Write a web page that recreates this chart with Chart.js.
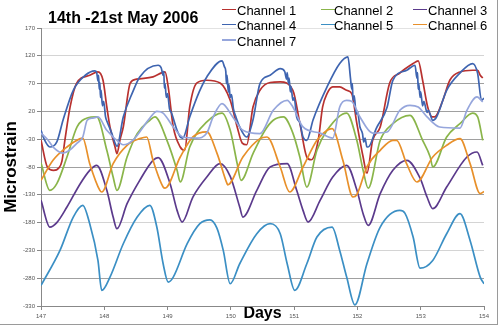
<!DOCTYPE html>
<html>
<head>
<meta charset="utf-8">
<script src="https://cdn.jsdelivr.net/npm/chart.js@4.4.1/dist/chart.umd.min.js"></script>
<style>
  html, body { margin: 0; padding: 0; background: #fff; }
  #wrap { position: relative; width: 500px; height: 326px; overflow: hidden; background: #fff; font-family: "Liberation Sans", Arial, sans-serif; }
  #frame { position: absolute; left: 0; top: 0; width: 497px; height: 324px; border-right: 1px solid #9a9a9a; border-bottom: 1px solid #9a9a9a; box-sizing: content-box; pointer-events: none; }
  #c { position: absolute; left: 0; top: 0; }
  #title { position: absolute; left: 48px; top: 10px; font: bold 16px/16px "Liberation Sans", Arial, sans-serif; color: #000; white-space: nowrap; }
  .lg-line { position: absolute; height: 1.5px; width: 14px; }
  .lg-text { position: absolute; font: 13px/16px "Liberation Sans", Arial, sans-serif; color: #000; white-space: nowrap; }
</style>
</head>
<body>
<div id="wrap">
  <canvas id="c" width="500" height="326"></canvas>
  <div id="title">14th -21st May 2006</div>
  <div id="legend"></div>
  <div id="frame"></div>
</div>
<script>
// ---------- data ----------
const channelNames = ['Channel 1', 'Channel 2', 'Channel 3', 'Channel 4', 'Channel 5', 'Channel 6', 'Channel 7'];
const channelColors = ['#b8312f', '#8ab54a', '#5b3a8c', '#3e64b0', '#3b8fc4', '#e8902a', '#96a6dc'];

const yTicks = [-330, -280, -230, -180, -130, -80, -30, 20, 70, 120, 170];
const xTicks = [147, 148, 149, 150, 151, 152, 153, 154];

const ch1Days = [147.00,147.10,147.20,147.28,147.33,147.38,147.46,147.56,147.77,147.90,147.98,148.04,148.09,148.17,148.20,148.25,148.30,148.41,148.51,148.77,148.96,149.01,149.09,149.20,149.27,149.35,149.46,149.62,149.83,149.99,150.10,150.18,150.25,150.35,150.46,150.62,150.78,150.98,151.09,151.20,151.27,151.38,151.45,151.52,151.61,151.72,151.83,151.91,151.99,152.09,152.15,152.24,152.36,152.51,152.67,152.88,152.96,153.03,153.11,153.18,153.22,153.35,153.46,153.62,153.82,153.90,153.94,153.98];
const ch1Vals = [-32,-80,-86,-82,-70,-30,28,70,85,91,76,28,-8,-44,-56,-30,-8,71,78,82,91,64,-8,-44,-50,28,71,76,71,40,-8,-37,-40,28,58,72,73,58,-1,-62,-67,-32,28,52,64,64,58,52,-1,-62,-91,-32,-8,71,89,106,111,76,28,10,10,40,76,91,94,94,85,80];

const ch2Days = [147.00,147.14,147.25,147.41,147.57,147.73,147.88,148.04,148.14,148.20,148.36,148.52,148.72,148.80,148.99,149.15,149.20,149.35,149.62,149.86,149.99,150.10,150.16,150.35,150.54,150.67,150.83,150.98,151.09,151.20,151.36,151.52,151.83,151.99,152.09,152.17,152.36,152.56,152.83,153.03,153.15,153.19,153.41,153.62,153.82,153.90,153.98];
const ch2Vals = [-73,-122,-110,-62,-8,8,10,-50,-98,-122,-62,-20,4,10,-32,-86,-107,-44,1,17,-14,-74,-104,-56,-14,4,10,-19,-62,-116,-50,-14,17,-32,-86,-118,-32,-2,13,-32,-62,-80,-26,-2,17,10,-32];

const ch3Days = [147.00,147.14,147.25,147.41,147.62,147.77,147.88,148.04,148.14,148.20,148.36,148.56,148.77,148.85,149.04,149.15,149.23,149.40,149.62,149.83,149.99,150.14,150.19,150.41,150.62,150.89,151.04,151.14,151.22,151.41,151.61,151.83,151.99,152.09,152.17,152.36,152.56,152.78,152.99,153.10,153.19,153.41,153.73,153.89,153.98];
const ch3Vals = [-140,-188,-180,-152,-110,-86,-77,-122,-170,-191,-146,-104,-68,-63,-110,-158,-179,-134,-98,-74,-97,-152,-170,-122,-80,-74,-122,-158,-179,-140,-98,-77,-121,-164,-185,-128,-86,-68,-100,-134,-155,-116,-62,-53,-77];

const ch4Days = [147.00,147.05,147.14,147.25,147.35,147.51,147.70,147.85,147.88,147.90,147.91,147.92,147.93,147.94,147.95,147.97,147.99,148.02,148.05,148.12,148.17,148.20,148.30,148.45,148.56,148.85,148.90,148.93,148.94,148.95,148.96,148.98,149.00,149.03,149.06,149.15,149.20,149.24,149.35,149.50,149.62,149.86,149.90,149.92,149.93,149.94,149.96,149.97,149.99,150.01,150.04,150.08,150.14,150.25,150.35,150.46,150.62,150.78,150.85,150.88,150.89,150.91,150.92,150.94,150.95,150.98,151.00,151.04,151.09,151.14,151.20,151.30,151.52,151.72,151.85,151.89,151.91,151.92,151.93,151.95,151.98,152.00,152.04,152.08,152.10,152.12,152.15,152.17,152.30,152.47,152.56,152.78,152.91,152.94,152.95,152.96,152.97,152.99,153.00,153.03,153.05,153.10,153.12,153.19,153.25,153.41,153.62,153.82,153.90,153.96,154.00];
const ch4Vals = [-14,-30,-44,-35,5,58,85,93,90,75,85,60,72,45,58,30,38,10,0,-20,-37,-43,10,55,82,103,98,85,92,62,70,45,52,25,18,-14,-26,-28,10,55,82,111,100,92,70,85,55,68,45,50,25,10,-8,-26,5,70,85,97,92,78,90,70,80,55,65,40,45,10,0,-26,-32,5,64,106,118,80,60,70,40,48,15,20,-8,-20,-35,-28,-44,-44,-10,28,76,94,103,80,90,60,70,45,55,30,38,18,22,4,10,58,89,106,88,40,44];

const ch5Days = [147.00,147.30,147.51,147.66,147.77,147.90,147.96,148.09,148.30,148.52,148.72,148.83,148.93,149.01,149.09,149.31,149.51,149.67,149.78,149.88,149.99,150.14,150.41,150.62,150.78,150.89,151.01,151.20,151.36,151.60,151.72,151.83,151.96,152.15,152.36,152.67,152.75,152.88,152.99,153.19,153.41,153.62,153.78,153.94,154.00];
const ch5Vals = [-293,-230,-170,-149,-182,-248,-302,-278,-218,-170,-149,-188,-254,-287,-278,-218,-182,-175,-190,-230,-290,-254,-200,-182,-200,-254,-302,-254,-206,-188,-230,-278,-328,-254,-188,-158,-163,-206,-262,-248,-200,-164,-212,-278,-290];

const ch6Days = [147.00,147.19,147.41,147.62,147.66,147.77,147.93,147.96,148.14,148.36,148.56,148.67,148.77,148.93,148.96,149.20,149.40,149.62,149.78,149.94,149.95,150.19,150.46,150.57,150.78,150.93,151.14,151.36,151.52,151.60,151.77,151.93,151.99,152.15,152.36,152.56,152.62,152.78,152.94,153.19,153.41,153.62,153.78,153.94,154.00];
const ch6Vals = [-104,-68,-44,-29,-28,-74,-122,-125,-74,-41,-29,-26,-68,-116,-118,-62,-26,-17,-55,-110,-112,-62,-29,-26,-80,-125,-80,-32,-14,-11,-68,-134,-130,-80,-50,-32,-32,-75,-107,-62,-41,-29,-74,-128,-124];

const ch7Days = [147.00,147.10,147.20,147.35,147.45,147.57,147.66,147.73,147.82,147.90,148.04,148.25,148.30,148.45,148.72,148.83,148.93,149.09,149.24,149.46,149.62,149.72,149.86,150.03,150.19,150.46,150.67,150.89,150.98,151.14,151.41,151.61,151.72,151.83,151.91,152.04,152.24,152.47,152.67,152.83,152.96,153.10,153.30,153.62,153.73,153.89,153.98];
const ch7Vals = [-19,-30,-45,-55,-50,-37,-26,4,8,10,-14,-37,-40,-32,8,20,17,-8,-26,-28,-19,10,34,10,-14,-20,22,40,28,-8,-19,-28,28,40,38,10,-19,-17,22,31,28,10,-8,-10,22,46,37];

// ---------- build datasets ----------
const allDays = [ch1Days, ch2Days, ch3Days, ch4Days, ch5Days, ch6Days, ch7Days];
const allVals = [ch1Vals, ch2Vals, ch3Vals, ch4Vals, ch5Vals, ch6Vals, ch7Vals];

const datasets = channelNames.map((name, i) => ({
  label: name,
  data: allDays[i].map((d, k) => ({ x: d, y: allVals[i][k] })),
  borderColor: channelColors[i],
  backgroundColor: channelColors[i],
  borderWidth: 1.7,
  pointRadius: 0,
  cubicInterpolationMode: 'monotone',
  fill: false,
  order: 6 - i
}));

// ---------- HTML legend (3 columns) ----------
const legendEl = document.getElementById('legend');
const colLineX = [222, 321, 413];
const colTextX = [237, 334, 428];
const rowLineY = [9.7, 24.5, 40];
const rowTextTop = [2.5, 17.8, 33.5];
channelNames.forEach((name, i) => {
  const col = i % 3, row = Math.floor(i / 3);
  const ln = document.createElement('div');
  ln.className = 'lg-line';
  ln.style.left = colLineX[col] + 'px';
  ln.style.top = (rowLineY[row] - 0.75) + 'px';
  ln.style.background = channelColors[i];
  legendEl.appendChild(ln);
  const tx = document.createElement('div');
  tx.className = 'lg-text';
  tx.style.left = colTextX[col] + 'px';
  tx.style.top = rowTextTop[row] + 'px';
  tx.textContent = name;
  legendEl.appendChild(tx);
});

// ---------- chart ----------
const tickFont = { family: '"Liberation Sans", Arial, sans-serif', size: 6 };

new Chart(document.getElementById('c'), {
  type: 'line',
  data: { datasets },
  options: {
    responsive: false,
    animation: false,
    devicePixelRatio: 1,
    layout: { padding: { left: 0, top: 28, right: 16, bottom: 0 } },
    plugins: {
      legend: { display: false },
      title: { display: false },
      tooltip: { enabled: false }
    },
    scales: {
      x: {
        type: 'linear',
        min: 147,
        max: 154,
        afterBuildTicks: (s) => { s.ticks = xTicks.map(v => ({ value: v })); },
        afterFit: (s) => { s.height = 20; },
        ticks: { font: tickFont, color: '#555', padding: 3, maxRotation: 0, autoSkip: false },
        grid: { drawOnChartArea: false, drawTicks: true, tickLength: 4, color: '#888', tickColor: '#888' },
        border: { display: true, color: '#888', width: 1 },
        title: {
          display: true, text: 'Days', color: '#000',
          font: { family: '"Liberation Sans", Arial, sans-serif', size: 16, weight: 'bold' },
          padding: { top: 0, bottom: 2.5 }
        }
      },
      y: {
        type: 'linear',
        min: -330,
        max: 170,
        afterBuildTicks: (s) => { s.ticks = yTicks.map(v => ({ value: v })); },
        afterFit: (s) => { s.width = 41; },
        ticks: { font: tickFont, color: '#555', padding: 2, autoSkip: false },
        grid: {
          drawTicks: true, tickLength: 4, tickColor: '#888', lineWidth: 1,
          color: (ctx) => {
            const v = ctx.tick ? ctx.tick.value : 0;
            if (v === 170) return '#e2e2e2';
            if (v === 120 || v === -180 || v === -230) return '#d4d4d4';
            return '#a0a0a0';
          }
        },
        border: { display: true, color: '#888', width: 1 },
        title: {
          display: true, text: 'Microstrain', color: '#000',
          font: { family: '"Liberation Sans", Arial, sans-serif', size: 17, weight: 'bold' },
          padding: { top: 1, bottom: 0 }
        }
      }
    }
  }
});
</script>
</body>
</html>
